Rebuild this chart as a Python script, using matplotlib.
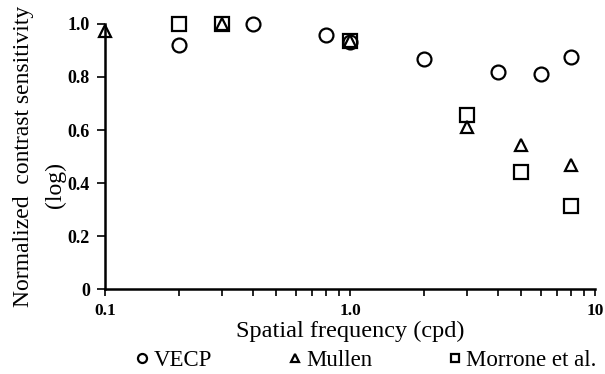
import matplotlib.pyplot as plt
from matplotlib.ticker import FixedLocator, NullFormatter

plt.rcParams['font.family'] = ['Liberation Serif', 'DejaVu Serif']

# data
vecp_x = [0.2, 0.4, 0.8, 1.0, 2.0, 4.0, 6.0, 8.0]
vecp_y = [0.92, 1.0, 0.957, 0.933, 0.867, 0.819, 0.813, 0.874]

mullen_x = [0.1, 0.3, 1.0, 3.0, 5.0, 8.0]
mullen_y = [0.975, 1.0, 0.935, 0.613, 0.543, 0.469]

morrone_x = [0.2, 0.3, 1.0, 3.0, 5.0, 8.0]
morrone_y = [0.998, 1.0, 0.935, 0.655, 0.44, 0.312]

xticks = [0.1, 1.0, 10]
xtick_labels = ['0.1', '1.0', '10']
yticks = [0, 0.2, 0.4, 0.6, 0.8, 1.0]
ytick_labels = ['0', '0.2', '0.4', '0.6', '0.8', '1.0']

fig = plt.figure(figsize=(6.05, 3.74), dpi=100)
ax = fig.add_axes([0.1736, 0.227, 0.81, 0.709])

mk = dict(linestyle='none', markerfacecolor='none', markeredgecolor='black',
          markeredgewidth=1.6, clip_on=False)
ax.plot(vecp_x, vecp_y, marker='o', markersize=10, label='VECP', **mk)
ax.plot(morrone_x, morrone_y, marker='s', markersize=9.5, label='Morrone et al.', **mk)
ax.plot(mullen_x, mullen_y, marker='^', markersize=9, label='Mullen', **mk)

ax.set_xscale('log')
ax.set_xlim(0.1, 10)
ax.set_ylim(0, 1.0)

ax.xaxis.set_major_locator(FixedLocator(xticks))
ax.set_xticklabels(xtick_labels, fontweight='bold', fontsize=12.5)
minor = [m * d for d in (0.1, 1.0) for m in range(2, 10)]
ax.xaxis.set_minor_locator(FixedLocator(minor))
ax.xaxis.set_minor_formatter(NullFormatter())
ax.set_yticks(yticks)
ax.set_yticklabels(ytick_labels, fontweight='bold', fontsize=13)

ax.tick_params(axis='x', which='both', direction='out', length=5, width=1.2, pad=5)
ax.tick_params(axis='y', direction='out', length=6, width=1.2, pad=5)

for s in ['top', 'right']:
    ax.spines[s].set_visible(False)
for s in ['left', 'bottom']:
    ax.spines[s].set_linewidth(1.8)

ax.set_xlabel('Spatial frequency (cpd)', fontsize=17.5, labelpad=1)
ax.set_ylabel('Normalized  contrast sensitivity', fontsize=17, labelpad=0)
ax.yaxis.set_label_coords(-0.145, 0.5)
fig.text(55 / 605, 1 - 185 / 374, '(log)', fontsize=17, rotation=90,
         ha='center', va='center')

h, l = ax.get_legend_handles_labels()
order = [0, 2, 1]
fig.legend([h[i] for i in order], [l[i] for i in order], loc='lower center',
           bbox_to_anchor=(0.605, -0.048), ncol=3, frameon=False, fontsize=16.5,
           markerscale=0.65, handlelength=0.6, handletextpad=0.2,
           columnspacing=3.3)

fig.savefig('out.png', dpi=100)
